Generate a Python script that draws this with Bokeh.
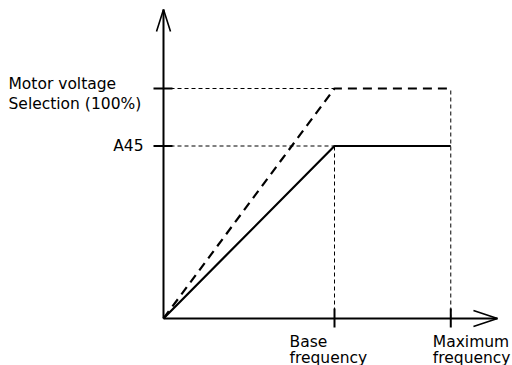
from bokeh.plotting import figure
from bokeh.models import Range1d
from bokeh.core.properties import value
from bokeh.embed import file_html
from bokeh.resources import INLINE

# ---- data ----
freq_points = [0.0, 1.0, 1.68]          # origin, base frequency, maximum frequency
voltage_100 = 100.0                     # Motor voltage selection (100%)
voltage_a45 = 75.0                      # A45
y_labels = ["Motor voltage", "Selection (100%)", "A45"]
x_labels = [["Base", "frequency"], ["Maximum", "frequency"]]
x_axis_end = 1.953
y_axis_end = 134.3

# ---- scale (pixels per data unit) ----
W, H = 512, 365
ox, oy = 163, 318          # origin in figure pixels (from left, from top)
PX = 171.0                 # px per frequency unit
PY = 2.3                   # px per percent

p = figure(width=W, height=H, output_backend="svg", toolbar_location=None,
           x_range=Range1d(-ox / PX, (W - ox) / PX),
           y_range=Range1d(-(H - oy) / PY, oy / PY),
           min_border=0, x_axis_type=None, y_axis_type=None)
p.grid.visible = False
p.outline_line_color = None
p.background_fill_color = "white"
p.border_fill_color = "white"

f0, fb, fm = freq_points
dx = lambda px: px / PX
dy = lambda px: px / PY

# thin dashed guides
thin = dict(line_color="black", line_width=1, line_dash="4 3")
p.line([f0, fb], [voltage_100, voltage_100], **thin)
p.line([f0, fb], [voltage_a45, voltage_a45], **thin)
p.line([fb, fb], [0, voltage_a45], **thin)
p.line([fm, fm], [0, voltage_100], **thin)

# thick dashed V/f line
p.line([f0, fb, fm], [0, voltage_100, voltage_100], line_color="black",
       line_width=2.2, line_dash="9 6")
# solid V/f line
p.line([f0, fb, fm], [0, voltage_a45, voltage_a45], line_color="black",
       line_width=2.2)

# axes
p.line([0, 0], [0, y_axis_end], line_color="black", line_width=2)
p.line([0, x_axis_end], [0, 0], line_color="black", line_width=2)
# arrowheads
p.line([-dx(7), 0, dx(7)], [y_axis_end - dy(22), y_axis_end, y_axis_end - dy(22)],
       line_color="black", line_width=1.6)
p.line([x_axis_end - dx(24), x_axis_end, x_axis_end - dx(24)], [dy(8), 0, -dy(8)],
       line_color="black", line_width=1.6)

# ticks
p.segment(x0=[-dx(10)] * 2, x1=[dx(9)] * 2, y0=[voltage_100, voltage_a45],
          y1=[voltage_100, voltage_a45], line_color="black", line_width=2)
p.segment(x0=[fb, fm], x1=[fb, fm], y0=[-dy(9)] * 2, y1=[dy(10)] * 2,
          line_color="black", line_width=2)

font = value("DejaVu Sans")
fs = "15.5px"
# y labels
p.text(x=[-dx(155)] * 2, y=[voltage_100 + dy(5), voltage_100 - dy(15)],
       text=y_labels[:2], text_font=font, text_font_size=fs,
       text_align="left", text_baseline="alphabetic", text_color="black")
p.text(x=[-dx(20)], y=[voltage_a45], text=[y_labels[2]], text_font=font,
       text_font_size=fs, text_align="right", text_baseline="middle",
       text_color="black")
# x labels
for fx, off, lab in zip([fb, fm], [45, 18], x_labels):
    p.text(x=[fx - dx(off)] * 2, y=[-dy(23), -dy(39)], text=lab, text_font=font,
           text_font_size=fs, text_align="left", text_baseline="alphabetic",
           text_color="black")

open("out.html", "w").write(file_html(p, INLINE))
